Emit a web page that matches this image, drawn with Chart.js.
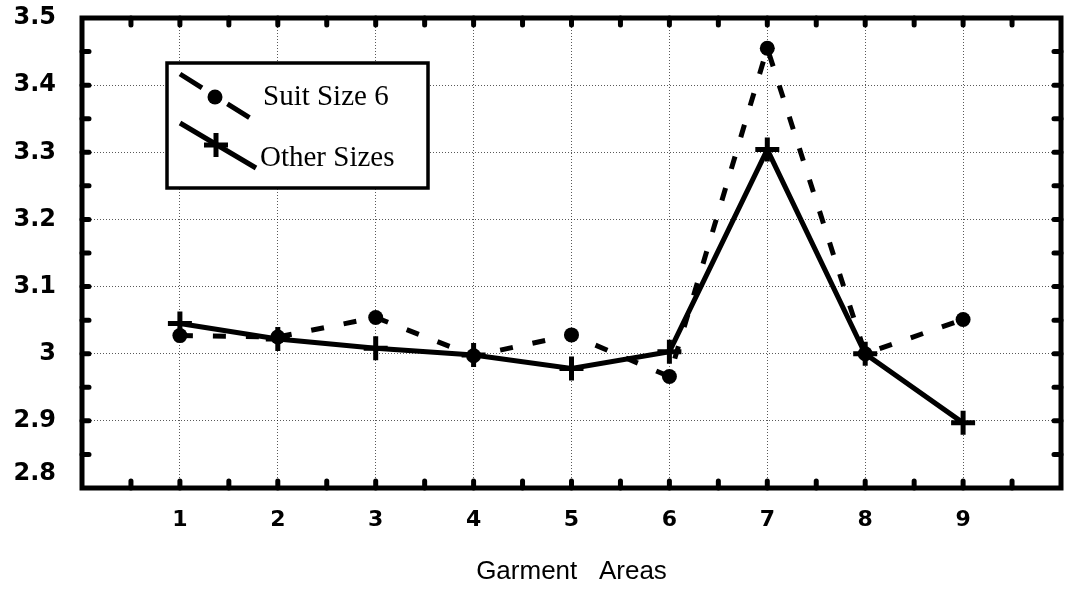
<!DOCTYPE html>
<html>
<head>
<meta charset="utf-8">
<script src="https://cdn.jsdelivr.net/npm/chart.js@4.4.1/dist/chart.umd.min.js"></script>
<style>
  html, body { margin: 0; padding: 0; background: #fff; }
  #wrap { width: 1078px; height: 593px; }
</style>
</head>
<body>
<div id="wrap"><canvas id="garmentChart" width="1078" height="593"></canvas></div>
<script>
// data
var garmentAreas = [1, 2, 3, 4, 5, 6, 7, 8, 9];
var suitSize6 = [3.027, 3.025, 3.054, 2.997, 3.028, 2.966, 3.455, 3.0, 3.051];
var otherSizes = [3.045, 3.022, 3.008, 2.998, 2.978, 3.003, 3.304, 3.0, 2.897];
var yTickLabels = ['2.8', '2.9', '3', '3.1', '3.2', '3.3', '3.4', '3.5'];
var seriesNames = ['Suit Size 6', 'Other Sizes'];
var xTitle = 'Garment   Areas';

var tickFont = "'DejaVu Sans', 'Liberation Sans', sans-serif";
var sansFont = "'Liberation Sans', Arial, sans-serif";
var serifFont = "'Liberation Serif', 'Times New Roman', serif";
var gridColor = 'rgba(0,0,0,0.65)';

function toPoints(values) {
    return garmentAreas.map(function (a, i) { return { x: a, y: values[i] }; });
}

// frame + little inward tick marks on all four sides
var framePlugin = {
    id: 'frame',
    afterDraw: function (chart) {
        var ctx = chart.ctx, a = chart.chartArea;
        var xs = chart.scales.x, ys = chart.scales.y;
        ctx.save();
        ctx.strokeStyle = '#000';
        ctx.lineCap = 'round';
        ctx.lineWidth = 5;
        var i, p;
        for (i = 1; i < 14; i++) {
            p = ys.getPixelForValue(ys.min + i * 0.05);
            ctx.beginPath();
            ctx.moveTo(a.left, p); ctx.lineTo(a.left + 7, p);
            ctx.moveTo(a.right, p); ctx.lineTo(a.right - 7, p);
            ctx.stroke();
        }
        for (i = 1; i < 20; i++) {
            p = xs.getPixelForValue(xs.min + i * 0.5);
            ctx.beginPath();
            ctx.moveTo(p, a.top); ctx.lineTo(p, a.top + 7);
            ctx.moveTo(p, a.bottom); ctx.lineTo(p, a.bottom - 7);
            ctx.stroke();
        }
        ctx.lineCap = 'butt';
        ctx.lineWidth = 5;
        ctx.strokeRect(a.left, a.top, a.right - a.left, a.bottom - a.top);
        ctx.restore();
    }
};

// boxed legend with slanted sample lines, like the original
var legendPlugin = {
    id: 'slantLegend',
    afterDraw: function (chart) {
        var ctx = chart.ctx;
        var ds = chart.data.datasets;
        ctx.save();
        ctx.fillStyle = '#fff';
        ctx.fillRect(167, 63, 261, 125);
        ctx.strokeStyle = '#000';
        ctx.lineWidth = 3.5;
        ctx.strokeRect(167, 63, 261, 125);

        // Suit Size 6 sample
        ctx.lineWidth = 5;
        ctx.setLineDash([26, 30]);
        ctx.beginPath();
        ctx.moveTo(180, 74); ctx.lineTo(250, 118);
        ctx.stroke();
        ctx.setLineDash([]);
        ctx.fillStyle = '#000';
        ctx.beginPath();
        ctx.arc(215, 97, 7.5, 0, Math.PI * 2);
        ctx.fill();

        // Other Sizes sample
        ctx.beginPath();
        ctx.moveTo(180, 123); ctx.lineTo(256, 168);
        ctx.stroke();
        ctx.beginPath();
        ctx.moveTo(216, 133); ctx.lineTo(216, 157);
        ctx.moveTo(204, 145); ctx.lineTo(228, 145);
        ctx.stroke();

        ctx.font = '29px ' + serifFont;
        ctx.textBaseline = 'alphabetic';
        ctx.textAlign = 'left';
        ctx.fillText(ds[0].label, 263, 105);
        ctx.fillText(ds[1].label, 260, 166);
        ctx.restore();
    }
};

var ctx = document.getElementById('garmentChart').getContext('2d');
var garmentChart = new Chart(ctx, {
    type: 'line',
    data: {
        datasets: [{
            label: seriesNames[0],
            data: toPoints(suitSize6),
            borderColor: '#000',
            backgroundColor: '#000',
            borderWidth: 5,
            borderDash: [13, 20],
            pointStyle: 'circle',
            pointRadius: 7.5,
            pointBorderWidth: 0,
            pointBackgroundColor: '#000',
            tension: 0,
            order: 2
        }, {
            label: seriesNames[1],
            data: toPoints(otherSizes),
            borderColor: '#000',
            backgroundColor: '#000',
            borderWidth: 5,
            pointStyle: 'cross',
            pointRadius: 12,
            pointBorderWidth: 5,
            pointBorderColor: '#000',
            tension: 0,
            order: 1
        }]
    },
    options: {
        responsive: false,
        devicePixelRatio: 1,
        animation: false,
        layout: { padding: { top: 18, right: 10, left: 0, bottom: 0 } },
        plugins: {
            legend: { display: false },
            tooltip: { enabled: false }
        },
        scales: {
            x: {
                type: 'linear',
                min: 0,
                max: 10,
                border: { display: false, dash: [1, 2] },
                grid: {
                    display: true,
                    drawTicks: false,
                    lineWidth: 1,
                    color: function (c) {
                        var v = c.tick ? c.tick.value : 0;
                        return (v <= 0 || v >= 10) ? 'rgba(0,0,0,0)' : gridColor;
                    }
                },
                ticks: {
                    stepSize: 1,
                    padding: 19,
                    color: '#000',
                    font: { family: tickFont, size: 22, weight: 'bold' },
                    callback: function (v) {
                        return garmentAreas.indexOf(v) >= 0 ? String(v) : '';
                    }
                },
                title: {
                    display: true,
                    text: xTitle,
                    color: '#000',
                    font: { family: sansFont, size: 26 },
                    padding: { top: 0, bottom: 6 }
                },
                afterFit: function (s) {
                    s.height = 105;
                    s.paddingLeft = 0;
                    s.paddingRight = 0;
                }
            },
            y: {
                min: 2.8,
                max: 3.5,
                border: { display: false, dash: [1, 2] },
                grid: {
                    display: true,
                    drawTicks: false,
                    lineWidth: 1,
                    color: function (c) {
                        var v = c.tick ? c.tick.value : 2.8;
                        return (v <= 2.801 || v >= 3.499) ? 'rgba(0,0,0,0)' : gridColor;
                    }
                },
                ticks: {
                    stepSize: 0.1,
                    padding: 26,
                    color: '#000',
                    font: { family: tickFont, size: 24, weight: 'bold' },
                    callback: function (v) {
                        var lbl = '';
                        yTickLabels.forEach(function (t) {
                            if (Math.abs(parseFloat(t) - v) < 1e-6) lbl = t;
                        });
                        // the bottom label sits above the axis in the original
                        return lbl === yTickLabels[0] ? [lbl, ''] : lbl;
                    }
                },
                afterFit: function (s) {
                    s.width = 82;
                    s.paddingTop = 0;
                    s.paddingBottom = 0;
                }
            }
        }
    },
    plugins: [framePlugin, legendPlugin]
});
</script>
</body>
</html>
